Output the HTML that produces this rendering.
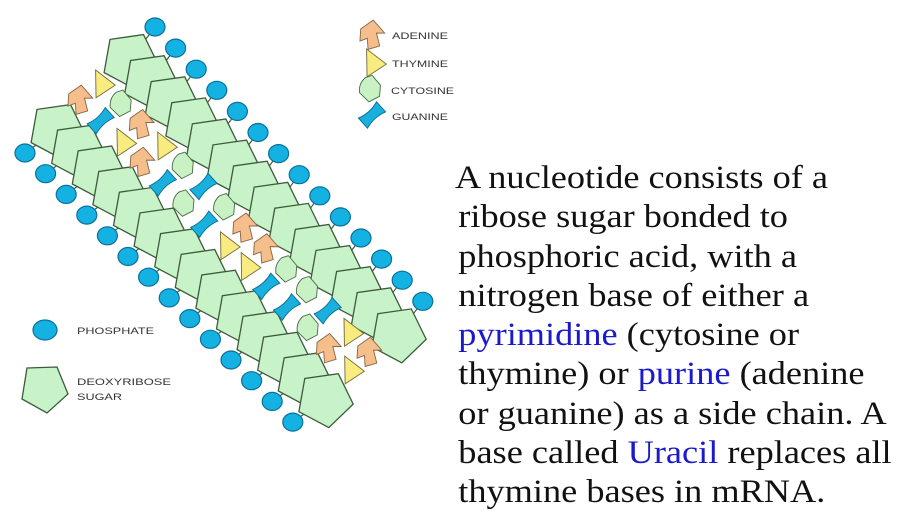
<!DOCTYPE html>
<html><head><meta charset="utf-8"><style>
html,body{margin:0;padding:0;background:#fff;}
svg{display:block;position:absolute;left:0;top:0;}
.s{font-family:"Liberation Sans",sans-serif;font-size:9px;fill:#333;}
.tx{position:absolute;left:455px;top:159px;font-family:"Liberation Serif","Times New Roman",serif;font-size:33px;line-height:39.3px;color:#111;white-space:nowrap;transform:scaleX(1.1);transform-origin:0 0;}
.tx div{padding-left:3px;}
.tx div:first-child{padding-left:0;}
.b{color:#1a1acc;}
</style></head><body>
<svg width="914" height="529" viewBox="0 0 914 529" xmlns="http://www.w3.org/2000/svg">
<defs>
<polygon id="pent" points="4,28.5 -25.9,12.6 -20,-20.6 13.5,-25.4 28.4,5" fill="#c8f2c8" stroke="#3d5a3d" stroke-width="1.3"/>
<ellipse id="ph" cx="0" cy="0" rx="10" ry="9" fill="#14b2e2" stroke="#0b6f98" stroke-width="1.2"/>
<g id="A"><polygon points="-9,-3 -1,-11 9,-3 3,-2 7,7 -1,11 -3,3 -8,6" fill="#f6be8a" stroke="#8a6a4a" stroke-width="0.7" transform="rotate(10) scale(1.35)"/></g>
<g id="T"><polygon points="-8,8 2,-10 9,7" fill="#f8ec80" stroke="#7a7040" stroke-width="0.7" transform="rotate(-30) scale(1.35)"/></g>
<g id="C"><path d="M-7,7 L-8,-3 Q-4,-9 3,-9 L8,-7 L8,3 L2,9 Z" fill="#c8f2c4" stroke="#4a6a4a" stroke-width="0.7" transform="rotate(-40) scale(1.3)"/></g>
<g id="G"><path d="M-9,-5 Q0,-2 9,-5 L9,5 Q0,2 -9,5 Z" fill="#19b0de" stroke="#0b6f98" stroke-width="0.7" transform="rotate(-42) scale(1.35)"/></g>
</defs>

<g stroke="#3d5a3d" stroke-width="1.2">
<line x1="155" y1="27" x2="130" y2="60"/><line x1="175.6" y1="48.1" x2="150.6" y2="81.1"/><line x1="196.2" y1="69.2" x2="171.2" y2="102.2"/><line x1="216.8" y1="90.3" x2="191.8" y2="123.3"/><line x1="237.4" y1="111.4" x2="212.4" y2="144.4"/><line x1="258" y1="132.5" x2="233" y2="165.5"/><line x1="278.6" y1="153.6" x2="253.6" y2="186.6"/><line x1="299.2" y1="174.7" x2="274.2" y2="207.7"/><line x1="319.8" y1="195.8" x2="294.8" y2="228.8"/><line x1="340.4" y1="216.9" x2="315.4" y2="249.9"/><line x1="361" y1="238" x2="336" y2="271"/><line x1="381.6" y1="259.1" x2="356.6" y2="292.1"/><line x1="402.2" y1="280.2" x2="377.2" y2="313.2"/><line x1="422.8" y1="301.3" x2="397.8" y2="334.3"/>
<line x1="25" y1="153" x2="57" y2="130"/><line x1="45.6" y1="173.7" x2="77.6" y2="150.7"/><line x1="66.2" y1="194.4" x2="98.2" y2="171.4"/><line x1="86.8" y1="215.1" x2="118.8" y2="192.1"/><line x1="107.4" y1="235.8" x2="139.4" y2="212.8"/><line x1="128" y1="256.5" x2="160" y2="233.5"/><line x1="148.6" y1="277.2" x2="180.6" y2="254.2"/><line x1="169.2" y1="297.9" x2="201.2" y2="274.9"/><line x1="189.8" y1="318.6" x2="221.8" y2="295.6"/><line x1="210.4" y1="339.3" x2="242.4" y2="316.3"/><line x1="231" y1="360" x2="263" y2="337"/><line x1="251.6" y1="380.7" x2="283.6" y2="357.7"/><line x1="272.2" y1="401.4" x2="304.2" y2="378.4"/><line x1="292.8" y1="422.1" x2="324.8" y2="399.1"/>
</g>

<use href="#pent" x="130" y="60"/><use href="#pent" x="150.6" y="81.1"/><use href="#pent" x="171.2" y="102.2"/><use href="#pent" x="191.8" y="123.3"/><use href="#pent" x="212.4" y="144.4"/><use href="#pent" x="233" y="165.5"/><use href="#pent" x="253.6" y="186.6"/><use href="#pent" x="274.2" y="207.7"/><use href="#pent" x="294.8" y="228.8"/><use href="#pent" x="315.4" y="249.9"/><use href="#pent" x="336" y="271"/><use href="#pent" x="356.6" y="292.1"/><use href="#pent" x="377.2" y="313.2"/><use href="#pent" x="397.8" y="334.3"/>
<use href="#pent" x="57" y="130"/><use href="#pent" x="77.6" y="150.7"/><use href="#pent" x="98.2" y="171.4"/><use href="#pent" x="118.8" y="192.1"/><use href="#pent" x="139.4" y="212.8"/><use href="#pent" x="160" y="233.5"/><use href="#pent" x="180.6" y="254.2"/><use href="#pent" x="201.2" y="274.9"/><use href="#pent" x="221.8" y="295.6"/><use href="#pent" x="242.4" y="316.3"/><use href="#pent" x="263" y="337"/><use href="#pent" x="283.6" y="357.7"/><use href="#pent" x="304.2" y="378.4"/><use href="#pent" x="324.8" y="399.1"/>

<use href="#ph" x="155" y="27"/><use href="#ph" x="175.6" y="48.1"/><use href="#ph" x="196.2" y="69.2"/><use href="#ph" x="216.8" y="90.3"/><use href="#ph" x="237.4" y="111.4"/><use href="#ph" x="258" y="132.5"/><use href="#ph" x="278.6" y="153.6"/><use href="#ph" x="299.2" y="174.7"/><use href="#ph" x="319.8" y="195.8"/><use href="#ph" x="340.4" y="216.9"/><use href="#ph" x="361" y="238"/><use href="#ph" x="381.6" y="259.1"/><use href="#ph" x="402.2" y="280.2"/><use href="#ph" x="422.8" y="301.3"/>
<use href="#ph" x="25" y="153"/><use href="#ph" x="45.6" y="173.7"/><use href="#ph" x="66.2" y="194.4"/><use href="#ph" x="86.8" y="215.1"/><use href="#ph" x="107.4" y="235.8"/><use href="#ph" x="128" y="256.5"/><use href="#ph" x="148.6" y="277.2"/><use href="#ph" x="169.2" y="297.9"/><use href="#ph" x="189.8" y="318.6"/><use href="#ph" x="210.4" y="339.3"/><use href="#ph" x="231" y="360"/><use href="#ph" x="251.6" y="380.7"/><use href="#ph" x="272.2" y="401.4"/><use href="#ph" x="292.8" y="422.1"/>

<use href="#A" x="80" y="100"/><use href="#T" x="100" y="83"/>
<use href="#G" x="100.7" y="120.7"/><use href="#C" x="120.7" y="103.7"/>
<use href="#T" x="121.4" y="141.4"/><use href="#A" x="141.4" y="124.4"/>
<use href="#A" x="142.1" y="162.1"/><use href="#T" x="162.1" y="145.1"/>
<use href="#G" x="162.8" y="182.8"/><use href="#C" x="182.8" y="165.8"/>
<use href="#C" x="183.5" y="203.5"/><use href="#G" x="203.5" y="186.5"/>
<use href="#G" x="204.2" y="224.2"/><use href="#C" x="224.2" y="207.2"/>
<use href="#T" x="224.9" y="244.9"/><use href="#A" x="244.9" y="227.9"/>
<use href="#T" x="245.6" y="265.6"/><use href="#A" x="265.6" y="248.6"/>
<use href="#G" x="266.3" y="286.3"/><use href="#C" x="286.3" y="269.3"/>
<use href="#G" x="287" y="307"/><use href="#C" x="307" y="290"/>
<use href="#C" x="307.7" y="327.7"/><use href="#G" x="327.7" y="310.7"/>
<use href="#A" x="328.4" y="348.4"/><use href="#T" x="348.4" y="331.4"/>
<use href="#T" x="349.1" y="369.1"/><use href="#A" x="369.1" y="352.1"/>

<use href="#A" x="372" y="35"/><use href="#T" x="371" y="62"/><use href="#C" x="370" y="89"/><use href="#G" x="372" y="115"/>
<text class="s" x="392" y="39" textLength="56" lengthAdjust="spacingAndGlyphs">ADENINE</text>
<text class="s" x="392" y="67" textLength="56" lengthAdjust="spacingAndGlyphs">THYMINE</text>
<text class="s" x="391" y="94" textLength="63" lengthAdjust="spacingAndGlyphs">CYTOSINE</text>
<text class="s" x="392" y="120" textLength="56" lengthAdjust="spacingAndGlyphs">GUANINE</text>
<text class="s" x="77" y="334" textLength="77" lengthAdjust="spacingAndGlyphs">PHOSPHATE</text>
<text class="s" x="77" y="385" textLength="94" lengthAdjust="spacingAndGlyphs">DEOXYRIBOSE</text>
<text class="s" x="77" y="400" textLength="45" lengthAdjust="spacingAndGlyphs">SUGAR</text>
<ellipse cx="45" cy="330" rx="12" ry="10" fill="#14b2e2" stroke="#0b6f98" stroke-width="1.2"/>
<polygon points="27,368 57,367 68,394 47,413 22,399" fill="#c8f2c8" stroke="#3d5a3d" stroke-width="1.3"/>
</svg>
<div class="tx">
<div>A nucleotide consists of a</div>
<div>ribose sugar bonded to</div>
<div>phosphoric acid, with a</div>
<div>nitrogen base of either a</div>
<div><span class="b">pyrimidine</span> (cytosine or</div>
<div>thymine) or <span class="b">purine</span> (adenine</div>
<div>or guanine) as a side chain. A</div>
<div>base called <span class="b">Uracil</span> replaces all</div>
<div>thymine bases in mRNA.</div>
</div>
</body></html>
